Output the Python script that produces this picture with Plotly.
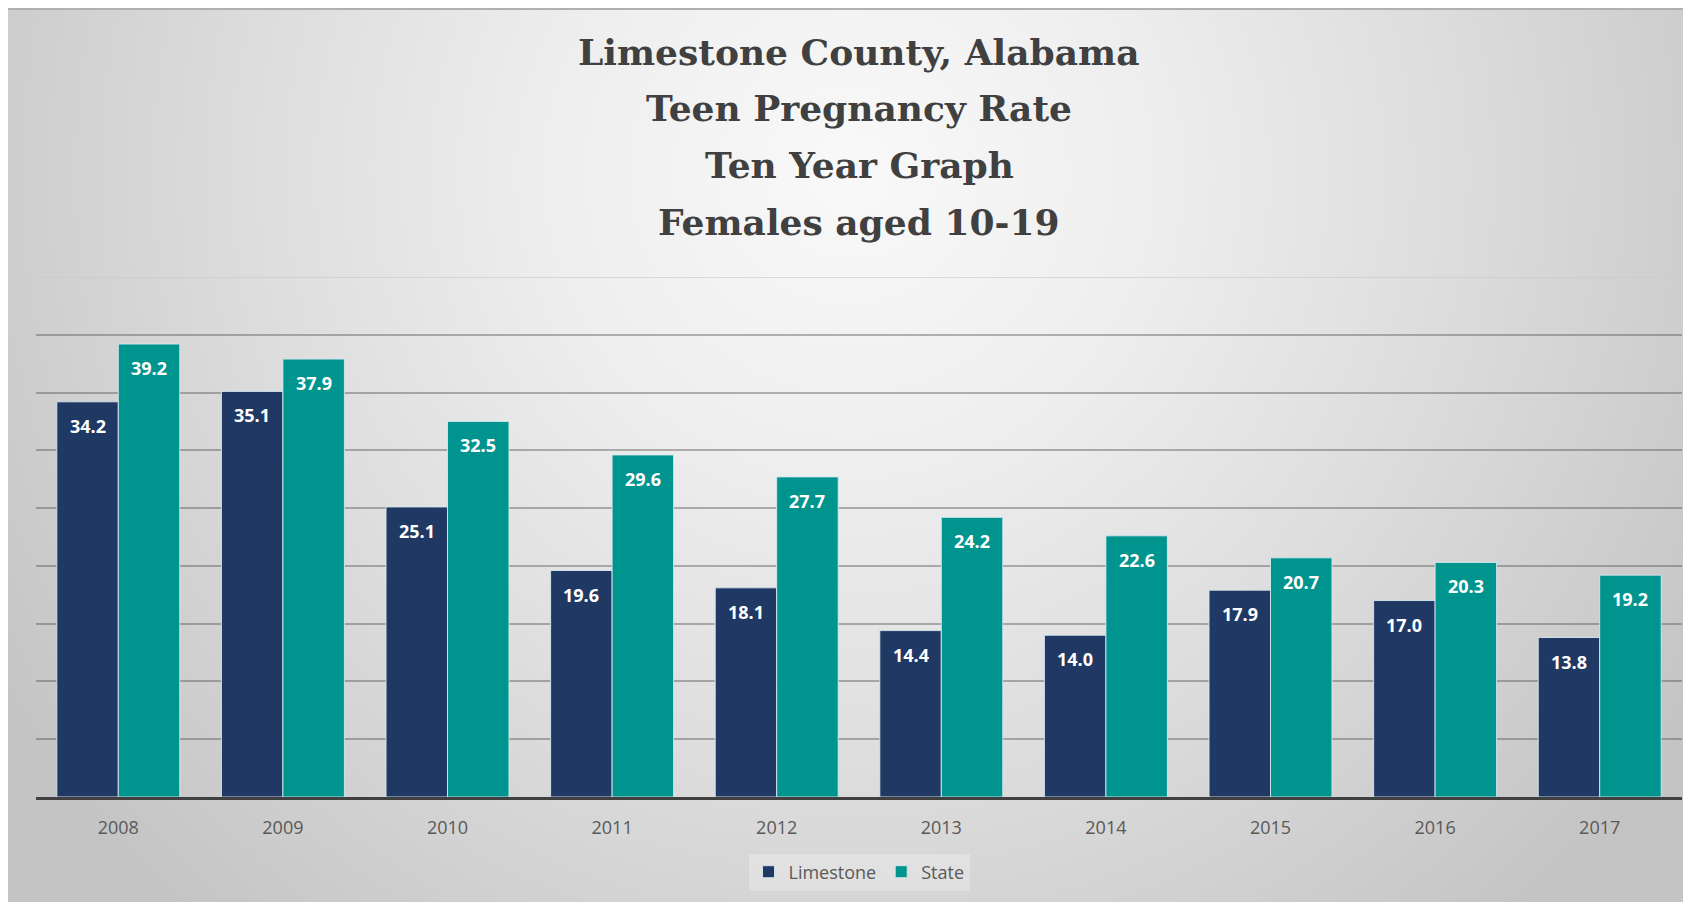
import base64
import plotly.graph_objects as go

# ---- data ----
years = ["2008", "2009", "2010", "2011", "2012", "2013", "2014", "2015", "2016", "2017"]
limestone = [34.2, 35.1, 25.1, 19.6, 18.1, 14.4, 14.0, 17.9, 17.0, 13.8]
state = [39.2, 37.9, 32.5, 29.6, 27.7, 24.2, 22.6, 20.7, 20.3, 19.2]
title_lines = ["Limestone County, Alabama", "Teen Pregnancy Rate", "Ten Year Graph", "Females aged 10-19"]
series_names = ["Limestone", "State"]

NAVY = "#203864"
TEAL = "#00948f"

OFF = 8  # page body margin
W, H = 1691 - OFF, 902 - OFF
ML, MR, MT, MB = 36 - OFF, 9, 277 - OFF, 105
PW = W - ML - MR
PH = H - MT - MB

fig = go.Figure()
fig.add_trace(go.Bar(x=years, y=limestone, name=series_names[0],
                     marker=dict(color=NAVY, line=dict(color="rgba(215,232,240,0.9)", width=1)),
                     hoverinfo="x+y"))
fig.add_trace(go.Bar(x=years, y=state, name=series_names[1],
                     marker=dict(color=TEAL, line=dict(color="rgba(215,232,240,0.9)", width=1)),
                     hoverinfo="x+y"))

# data labels (inside top of each bar); category axis -> annotation x is the category index
cat_w = PW / len(years)
bargap = 0.253
bar_w = cat_w * (1 - bargap) / 2
annotations = []
for vals, sh in ((limestone, -bar_w / 2), (state, bar_w / 2)):
    for i, v in enumerate(vals):
        annotations.append(dict(x=i, y=v, xref="x", yref="y", text=f"{v:.1f}",
                                showarrow=False, xshift=sh, yshift=-10, yanchor="top",
                                font=dict(family="Open Sans", size=18, color="white", weight="bold")))

# title lines (reference pixel centres)
title_px = [52, 108, 165, 222]
for line, py in zip(title_lines, title_px):
    annotations.append(dict(x=0.5, y=(MT + PH - (py - OFF)) / PH,
                            xref="paper", yref="paper", text=f"<b>{line}</b>", showarrow=False,
                            xanchor="center", yanchor="middle",
                            font=dict(family="DejaVu Serif", size=36, color="#404040")))

# background gradient panel as svg image
svg = f'''<svg xmlns="http://www.w3.org/2000/svg" width="{W}" height="{H}" viewBox="0 0 {W} {H}" preserveAspectRatio="none">
<defs><radialGradient id="g" gradientUnits="userSpaceOnUse" cx="{W/2}" cy="165" r="1000">
<stop offset="0" stop-color="#f9f9f9"/><stop offset="0.3" stop-color="#eeeeee"/>
<stop offset="0.6" stop-color="#dddddd"/><stop offset="1" stop-color="#c4c4c4"/></radialGradient></defs>
<rect x="0" y="0" width="{W}" height="{H}" fill="url(#g)"/>
</svg>'''
src = "data:image/svg+xml;base64," + base64.b64encode(svg.encode()).decode()

fig.update_layout(
    width=W, height=H, autosize=False,
    margin=dict(l=ML, r=MR, t=MT, b=MB, pad=0),
    paper_bgcolor="#d8d8d8", plot_bgcolor="rgba(0,0,0,0)",
    barmode="group", bargap=bargap, bargroupgap=0,
    showlegend=True,
    legend=dict(orientation="h", x=0.5, xanchor="center", y=(MT + PH - (872 - OFF)) / PH, yanchor="middle",
                font=dict(family="Open Sans", size=18, color="#595959"),
                bgcolor="rgba(255,255,255,0.25)", itemwidth=30, traceorder="normal"),
    annotations=annotations,
    images=[dict(source=src, xref="paper", yref="paper",
                 x=-ML / PW, y=(MT + PH) / PH, sizex=W / PW, sizey=H / PH,
                 xanchor="left", yanchor="top", sizing="stretch", layer="below")],
    xaxis=dict(type="category", range=[-0.5, len(years) - 0.5], showgrid=False, showline=True,
               linecolor="#404040", linewidth=3, ticks="", ticklabelstandoff=12,
               tickfont=dict(family="Open Sans", size=18, color="#595959"), fixedrange=True),
    yaxis=dict(range=[0, 45], tickvals=[5, 10, 15, 20, 25, 30, 35, 40], showticklabels=False,
               showgrid=True, gridcolor="rgba(80,80,80,0.42)", gridwidth=1.5, zeroline=False,
               showline=False, ticks="", fixedrange=True),
    shapes=[dict(type="line", xref="paper", yref="y", x0=0, x1=1, y0=45, y1=45,
                 line=dict(color="rgba(200,200,200,0.8)", width=1.5), layer="below"),
            dict(type="line", xref="paper", yref="paper", x0=-ML / PW, x1=(W - ML) / PW,
                 y0=(MT + PH - 1) / PH, y1=(MT + PH - 1) / PH,
                 line=dict(color="#b0b0b0", width=2), layer="below")],
)

fig.write_html("out.html")
